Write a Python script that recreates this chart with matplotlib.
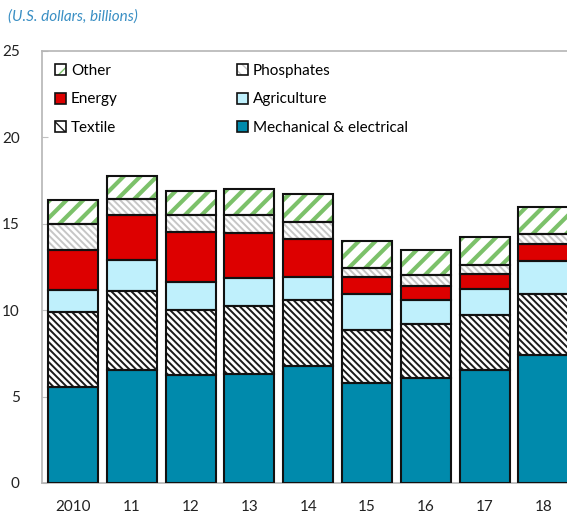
import matplotlib
matplotlib.use("Agg")
import matplotlib.pyplot as plt
from matplotlib.patches import Patch
import numpy as np

plt.rcParams["font.family"] = ["Lato", "DejaVu Sans"]

years = ["2010", "11", "12", "13", "14", "15", "16", "17", "18"]

# stacked segments, bottom to top (U.S. dollars, billions)
mechanical = [5.56, 6.56, 6.24, 6.33, 6.79, 5.76, 6.10, 6.52, 7.43]
textile = [4.33, 4.53, 3.75, 3.89, 3.81, 3.07, 3.12, 3.18, 3.52]
agriculture = [1.25, 1.79, 1.64, 1.65, 1.30, 2.08, 1.35, 1.54, 1.89]
energy = [2.35, 2.63, 2.88, 2.58, 2.22, 1.00, 0.80, 0.83, 1.00]
phosphates = [1.51, 0.93, 1.02, 1.08, 0.96, 0.52, 0.64, 0.55, 0.58]
other = [1.38, 1.34, 1.39, 1.48, 1.64, 1.60, 1.48, 1.64, 1.57]

yticks = [0, 5, 10, 15, 20, 25]

# label, values, face colour, hatch, hatch colour, hatch width
series = [
	("Mechanical & electrical", mechanical, "#008aac", None, None, 0),
	("Textile", textile, "white", "\\" * 5, "#1a1a1a", 1.4),
	("Agriculture", agriculture, "#bff0fc", None, None, 0),
	("Energy", energy, "#dd0000", None, None, 0),
	("Phosphates", phosphates, "white", "\\" * 5, "#c6c6c6", 1.4),
	("Other", other, "white", "//", "#7cc16a", 3.0),
]


def set_hlw(patches, hlw):
	for p in patches:
		if hasattr(p, "set_hatch_linewidth"):
			p.set_hatch_linewidth(hlw)


fig = plt.figure(figsize=(5.67, 5.25), dpi=100)
ax = fig.add_axes([0.074, 0.08, 0.93, 0.823])

x = np.arange(len(years))
width = 0.85
bottom = np.zeros(len(years))
handles = {}
for label, vals, fc, hatch, hc, hlw in series:
	vals = np.array(vals)
	outline = Patch(facecolor="none", edgecolor="#111111", linewidth=1.2)
	if hatch:
		with plt.rc_context({"hatch.linewidth": hlw}):
			bars = ax.bar(x, vals, width, bottom=bottom, color=fc,
				edgecolor=hc, hatch=hatch, linewidth=0, zorder=2)
			fill = Patch(facecolor=fc, edgecolor=hc, linewidth=0,
				hatch=hatch[:3])
		set_hlw(bars, hlw)
		set_hlw([fill], min(hlw, 1.5))
		handles[label] = (fill, outline)
	else:
		ax.bar(x, vals, width, bottom=bottom, color=fc, linewidth=0, zorder=2)
		handles[label] = Patch(facecolor=fc, edgecolor="#111111", linewidth=1.2)
	# black outline on top
	ax.bar(x, vals, width, bottom=bottom, fill=False, edgecolor="#111111",
		linewidth=1.5, zorder=3)
	bottom += vals

ax.set_xlim(-0.53, 8.44)
ax.set_ylim(0, 25)
ax.set_yticks(yticks)
ax.set_xticks(x)
ax.set_xticklabels(years)
ax.tick_params(axis="x", length=0, pad=12, labelsize=11, labelcolor="#222222")
ax.tick_params(axis="y", direction="in", length=4, color="#c0c0c0",
	pad=16, labelsize=11, labelcolor="#222222")
for s in ["left", "top", "bottom"]:
	ax.spines[s].set_color("#b5b5b5")
	ax.spines[s].set_linewidth(1.2)
ax.spines["right"].set_visible(False)

order = ["Other", "Energy", "Textile", "Phosphates", "Agriculture",
	"Mechanical & electrical"]
ax.legend([handles[k] for k in order], order, ncol=2, frameon=False,
	loc="upper left", bbox_to_anchor=(0.0, 1.0), fontsize=11,
	handlelength=0.75, handleheight=0.75, handletextpad=0.3,
	columnspacing=7.8, labelspacing=0.95, borderaxespad=0.45)

fig.text(0.014, 0.968, "(U.S. dollars, billions)", style="italic",
	color="#3a8fc4", fontsize=11, ha="left", va="center")

fig.savefig("out.png", dpi=100)
